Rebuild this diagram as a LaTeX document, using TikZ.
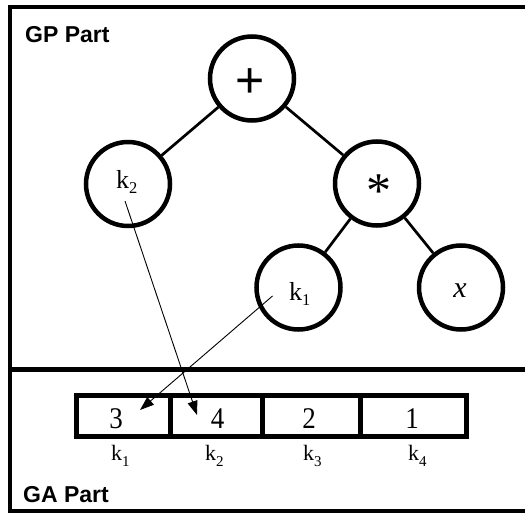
\documentclass[tikz,border=0pt]{standalone}
\usepackage{fontspec}
\setmainfont{Liberation Serif}
\newfontfamily\lsans{Liberation Sans}
\newfontfamily\numfont[FakeStretch=0.9]{Liberation Serif}
\usetikzlibrary{arrows.meta}
\newcommand\kbig[1]{k\raisebox{-5.5pt}{\fontsize{16.5}{16.5}\selectfont #1}}
\newcommand\ksmall[1]{k\raisebox{-6.5pt}{\fontsize{15}{15}\selectfont #1}}
\begin{document}
\begin{tikzpicture}[x=1pt,y=-1pt,
  tnode/.style={circle, draw, line width=4.5pt, minimum size=84pt, inner sep=0pt},
  edge/.style={line width=2.7pt},
  ptr/.style={line width=0.9pt, -{Triangle[length=14pt,width=10pt]}},
  cell/.style={draw, line width=5pt, minimum height=41pt, inner sep=0pt},
  title/.style={font=\lsans\bfseries\fontsize{23}{23}\selectfont, anchor=base west, inner sep=0pt},
  clabel/.style={font=\fontsize{26}{26}\selectfont, anchor=base west, inner sep=0pt},
  alabel/.style={font=\fontsize{22}{22}\selectfont, anchor=base west, inner sep=0pt},
  num/.style={font=\numfont\fontsize{30}{30}\selectfont, anchor=base, inner sep=0pt},
  frame/.style={line width=4pt}
]
\useasboundingbox (0,0) rectangle (525,514);
\clip (0,0) rectangle (525,514);
% frame
\draw[frame] (9.5,6.5) rectangle (540,511);
\draw[line width=4.5pt] (9.5,369.5) -- (540,369.5);
\node[title] (gp) at (25,42) {GP Part};
\node[title] (ga) at (23,502) {GA Part};
% tree
\node[tnode] (root) at (252,78.5) {};
\node[tnode] (k2n) at (128,184) {};
\node[tnode] (mul) at (377,183.5) {};
\node[tnode] (k1n) at (298.5,287.5) {};
\node[tnode] (xn) at (461,287.5) {};
\draw[edge] (root) -- (k2n);
\draw[edge] (root) -- (mul);
\draw[edge] (mul) -- (k1n);
\draw[edge] (mul) -- (xn);
\node[font=\lsans\fontsize{50}{50}\selectfont, anchor=base, inner sep=0pt] (plus) at (250.5,97.5) {+};
\node[font=\fontsize{50}{50}\selectfont, anchor=base, inner sep=0pt] (star) at (379,207) {*};
\node[clabel] (k2t) at (116,188) {\kbig{2}};
\node[clabel] (k1t) at (289,300) {\kbig{1}};
\node[font=\itshape\fontsize{30}{30}\selectfont, anchor=base, inner sep=0pt] (xt) at (460,297) {x};
% array
\node[cell, minimum width=94pt] (c1) at (123.5,416) {};
\node[cell, minimum width=91.5pt] (c2) at (216.25,416) {};
\node[cell, minimum width=98.5pt] (c3) at (311.25,416) {};
\node[cell, minimum width=106pt] (c4) at (413.5,416) {};
\node[num] (n1) at (116,428) {3};
\node[num] (n2) at (217.5,428) {4};
\node[num] (n3) at (309,428) {2};
\node[num] (n4) at (412,428) {1};
\node[alabel] (l1) at (111,460) {\ksmall{1}};
\node[alabel] (l2) at (205,460) {\ksmall{2}};
\node[alabel] (l3) at (303,460) {\ksmall{3}};
\node[alabel] (l4) at (408,460) {\ksmall{4}};
% pointers
\coordinate (p1s) at (125,201);
\coordinate (p1e) at (197,415);
\coordinate (p2s) at (272.5,296);
\coordinate (p2e) at (140,410);
\draw[ptr] (p1s) -- (p1e);
\draw[ptr] (p2s) -- (p2e);
\end{tikzpicture}
\end{document}
